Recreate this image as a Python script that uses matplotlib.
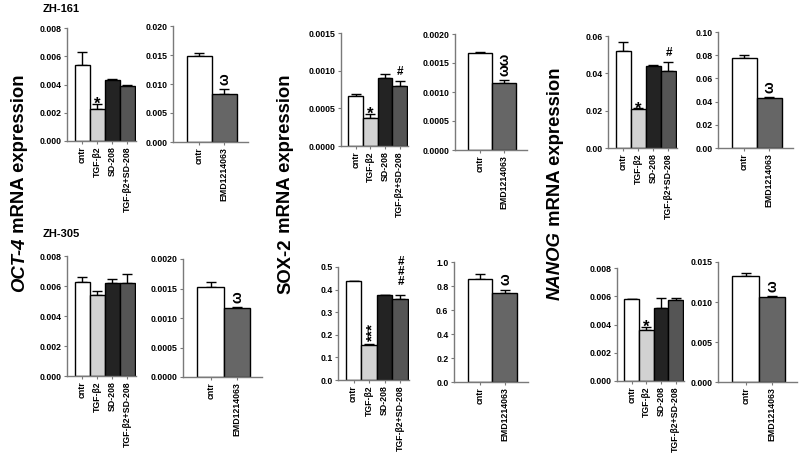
import matplotlib
matplotlib.use('Agg')
import matplotlib.pyplot as plt
import numpy as np

plt.rcParams['font.family'] = ['Liberation Sans', 'DejaVu Sans']
plt.rcParams['font.weight'] = 'bold'

# categories
groups4 = ['cntr', 'TGF-\u03b22', 'SD-208', 'TGF-\u03b22+SD-208']
groups2 = ['cntr', 'EMD1214063']
colors4 = ['white', '#d2d2d2', '#232323', '#555555']
colors2 = ['white', '#666666']

# ZH-161
oct4_161_a = [0.0054, 0.0023, 0.0043, 0.0039]
oct4_161_a_err = [0.0009, 0.0003, 0.0001, 0.00003]
oct4_161_a_sig = ['', '*', '', '']
oct4_161_b = [0.0149, 0.0082]
oct4_161_b_err = [0.0004, 0.0009]
oct4_161_b_sig = ['', '\u03c9']

sox2_161_a = [0.00067, 0.00037, 0.00090, 0.00080]
sox2_161_a_err = [0.00002, 0.00005, 0.00005, 0.00006]
sox2_161_a_sig = ['', '*', '', '#']
sox2_161_b = [0.00167, 0.00116]
sox2_161_b_err = [0.00002, 0.00005]
sox2_161_b_sig = ['', '\u03c9\u03c9']

nanog_161_a = [0.052, 0.021, 0.044, 0.041]
nanog_161_a_err = [0.005, 0.0002, 0.0003, 0.005]
nanog_161_a_sig = ['', '*', '', '#']
nanog_161_b = [0.078, 0.043]
nanog_161_b_err = [0.002, 0.001]
nanog_161_b_sig = ['', '\u03c9']

# ZH-305
oct4_305_a = [0.0063, 0.0054, 0.0062, 0.0062]
oct4_305_a_err = [0.0003, 0.0003, 0.0003, 0.0006]
oct4_305_a_sig = ['', '', '', '']
oct4_305_b = [0.00153, 0.00117]
oct4_305_b_err = [0.00008, 0.00001]
oct4_305_b_sig = ['', '\u03c9']

sox2_305_a = [0.437, 0.155, 0.375, 0.360]
sox2_305_a_err = [0.001, 0.005, 0.003, 0.015]
sox2_305_a_sig = ['', '***', '', '###']
sox2_305_b = [0.86, 0.745]
sox2_305_b_err = [0.04, 0.025]
sox2_305_b_sig = ['', '\u03c9']

nanog_305_a = [0.0058, 0.0036, 0.0052, 0.0057]
nanog_305_a_err = [0.00003, 0.00025, 0.00065, 0.00015]
nanog_305_a_sig = ['', '*', '', '']
nanog_305_b = [0.0133, 0.0106]
nanog_305_b_err = [0.0003, 0.0001]
nanog_305_b_sig = ['', '\u03c9']

W, H = 800, 463
fig = plt.figure(figsize=(8, 4.63), dpi=100)

def add_ax(x0, y0, x1, y1):
    return fig.add_axes([x0 / W, 1 - y1 / H, (x1 - x0) / W, (y1 - y0) / H])

def mark(ax, xi, top, s):
    if s.startswith('#'):
        #stacked hashes, upright, one text object
        off = 2 if len(s) == 1 else 5
        ax.annotate('\n'.join(s), (xi, top), xytext=(0.5, off),
                    textcoords='offset points', ha='center', va='bottom',
                    fontsize=8.5, linespacing=0.8)
    elif s == '*':
        ax.annotate(s, (xi, top), xytext=(0, -3.5), textcoords='offset points',
                    ha='center', va='baseline', fontsize=12)
    elif s.startswith('*'):
        ax.annotate(s, (xi, top), xytext=(2.5, 2), textcoords='offset points',
                    ha='center', va='bottom', fontsize=11, rotation=90)
    else:
        ax.annotate(s, (xi, top), xytext=(0.5, 3), textcoords='offset points',
                    ha='center', va='bottom', fontsize=10, rotation=90)

def panel(box, vals, errs, sigs, labels, colors, ymax, step, fmt, xlim):
    ax = add_ax(*box)
    x = np.arange(len(vals))
    ax.bar(x, vals, width=1.0, color=colors, edgecolor='black', linewidth=1.0,
           zorder=2)
    ax.errorbar(x, vals, yerr=[np.zeros(len(errs)), errs], fmt='none',
                ecolor='black', elinewidth=1.0, capsize=3.5, capthick=1.0,
                zorder=1)
    for xi, v, e, s in zip(x, vals, errs, sigs):
        if s:
            mark(ax, xi, v + e, s)
    ticks = np.arange(0, ymax + step / 2, step)
    ax.set_xlim(*xlim)
    ax.set_ylim(0, ymax)
    ax.set_yticks(ticks)
    ax.set_yticklabels([fmt.format(t) for t in ticks])
    ax.set_xticks(x)
    ax.set_xticklabels(labels, rotation=90)
    for sp in ['top', 'right']:
        ax.spines[sp].set_visible(False)
    for sp in ['left', 'bottom']:
        ax.spines[sp].set_color('#7a7a7a')
        ax.spines[sp].set_linewidth(1.0)
    ax.tick_params(axis='both', length=2.5, width=0.8, color='#7a7a7a',
                   labelsize=6.3, pad=1.5)
    return ax

xl4 = (-1.0, 3.58)
xl2 = (-1.05, 1.95)

# top row: ZH-161
panel((67, 28, 136, 141), oct4_161_a, oct4_161_a_err, oct4_161_a_sig,
      groups4, colors4, 0.008, 0.002, '{:.3f}', xl4)
panel((173, 26, 248, 142), oct4_161_b, oct4_161_b_err, oct4_161_b_sig,
      groups2, colors2, 0.020, 0.005, '{:.3f}', xl2)
panel((341, 33, 408, 146), sox2_161_a, sox2_161_a_err, sox2_161_a_sig,
      groups4, colors4, 0.0015, 0.0005, '{:.4f}', xl4)
panel((455, 34, 527, 150), sox2_161_b, sox2_161_b_err, sox2_161_b_sig,
      groups2, colors2, 0.0020, 0.0005, '{:.4f}', xl2)
panel((608, 36, 677, 148), nanog_161_a, nanog_161_a_err, nanog_161_a_sig,
      groups4, colors4, 0.06, 0.02, '{:.2f}', xl4)
panel((718, 32, 793, 148), nanog_161_b, nanog_161_b_err, nanog_161_b_sig,
      groups2, colors2, 0.10, 0.02, '{:.2f}', xl2)

# bottom row: ZH-305
panel((67, 256, 136, 376), oct4_305_a, oct4_305_a_err, oct4_305_a_sig,
      groups4, colors4, 0.008, 0.002, '{:.3f}', xl4)
panel((183, 259, 262, 377), oct4_305_b, oct4_305_b_err, oct4_305_b_sig,
      groups2, colors2, 0.0020, 0.0005, '{:.4f}', xl2)
panel((338, 267, 409, 380), sox2_305_a, sox2_305_a_err, sox2_305_a_sig,
      groups4, colors4, 0.5, 0.1, '{:.1f}', xl4)
panel((454, 262, 528, 382), sox2_305_b, sox2_305_b_err, sox2_305_b_sig,
      groups2, colors2, 1.0, 0.2, '{:.1f}', xl2)
panel((617, 268, 684, 381), nanog_305_a, nanog_305_a_err, nanog_305_a_sig,
      groups4, colors4, 0.008, 0.002, '{:.3f}', xl4)
panel((718, 262, 797, 382), nanog_305_b, nanog_305_b_err, nanog_305_b_sig,
      groups2, colors2, 0.015, 0.005, '{:.3f}', xl2)

# cell line labels
fig.text(43 / W, 1 - 9 / H, 'ZH-161', fontsize=8, ha='left', va='center')
fig.text(43 / W, 1 - 234 / H, 'ZH-305', fontsize=8, ha='left', va='center')

# gene axis titles: gene name (italic or not) + ' mRNA expression'
renderer = fig.canvas.get_renderer()

def gene_title(xc, yc, gene, italic):
    t1 = fig.text(xc / W, 0, gene, rotation=90, fontsize=13.3, ha='center',
                  va='bottom', style='italic' if italic else 'normal')
    t2 = fig.text(xc / W, 0, ' mRNA expression', rotation=90, fontsize=13.3,
                  ha='center', va='bottom')
    h1 = t1.get_window_extent(renderer).height
    h2 = t2.get_window_extent(renderer).height
    y0 = (H - yc) - (h1 + h2) / 2
    t1.set_y(y0 / H)
    t2.set_y((y0 + h1) / H)

gene_title(20, 183, 'OCT-4', True)
gene_title(286, 184, 'SOX-2', False)
gene_title(555, 184, 'NANOG', True)

fig.savefig('out.png', dpi=100)
